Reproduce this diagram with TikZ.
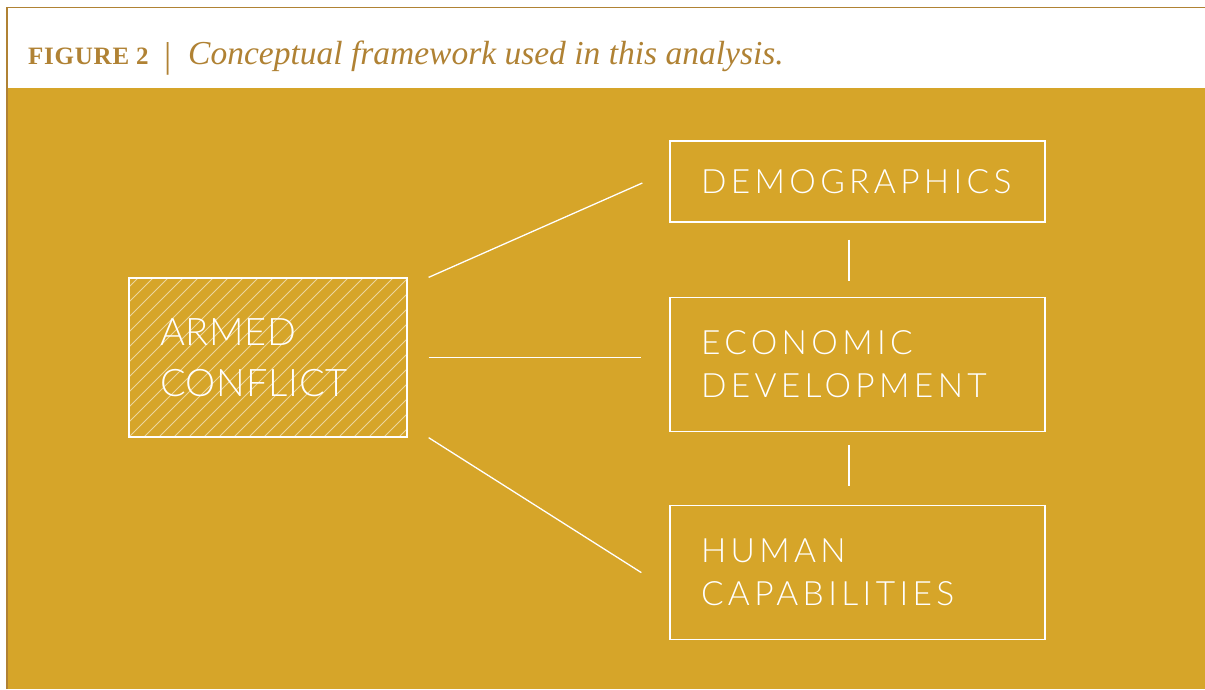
\documentclass[tikz,border=0pt]{standalone}
\usepackage{fontspec}
\setmainfont{Liberation Serif}
\newfontfamily\boxfont[LetterSpace=13]{Lato Light}
\newfontfamily\armfont[LetterSpace=2]{Lato Light}
\newfontfamily\figfont[LetterSpace=3]{Liberation Serif}
\usetikzlibrary{positioning}

\definecolor{gold}{RGB}{214,165,41}
\definecolor{headgold}{RGB}{176,130,52}

\tikzset{
	box/.style={draw=white, line width=1.3pt, text=white, align=left,
		text width=313pt, inner xsep=31pt, inner ysep=0pt, minimum height=134pt,
		font=\boxfont\fontsize{33.5}{43}\selectfont},
	hatched/.style={path picture={
		\foreach \i in {-11,...,19}
			\draw[white, opacity=0.55, line width=0.8pt]
				([xshift=\i*15pt]path picture bounding box.south west) -- ++(165pt,165pt);
	}},
	link/.style={draw=white, line width=1.3pt},
}

\begin{document}
\begin{tikzpicture}[x=1pt, y=-1pt]
	\useasboundingbox (0,0) rectangle (1205,689);
	\fill[white] (0,0) rectangle (1205,689);
	\fill[gold] (8,88) rectangle (1205,689);
	\draw[headgold, line width=1.5pt] (7,689) -- (7,7.5) -- (1205,7.5);

	% caption
	\node[anchor=base west, inner sep=0pt, text=headgold, font=\figfont\bfseries\fontsize{25}{25}\selectfont](FIG) at (28,64){FIGURE 2};
	\node[anchor=base west, inner sep=0pt, text=headgold, font=\fontsize{36}{36}\selectfont](BAR) at (164,67){|};
	\node[anchor=base west, inner sep=0pt, text=headgold, font=\itshape\fontsize{33.5}{33.5}\selectfont](CAP) at (188,64){Conceptual framework used in this analysis.};

	% boxes
	\node[box, minimum height=81pt](DEMO) at (857.5,181.5){DEMOGRAPHICS};
	\node[box, below=74pt of DEMO](ECON){ECONOMIC\\DEVELOPMENT};
	\node[box, below=73pt of ECON](HUM){HUMAN\\CAPABILITIES};

	\node[box, hatched, text width=216pt, minimum height=159pt,
		font=\armfont\fontsize{38}{51}\selectfont](ARM) at (268,357.5){ARMED\\CONFLICT};

	% links
	\coordinate[right=21pt of ARM.north east](A1);
	\coordinate[right=21pt of ARM.east](A2);
	\coordinate[right=21pt of ARM.south east](A3);
	\coordinate[left=27pt of DEMO.west, yshift=-1.5pt](B1);
	\coordinate[left=28pt of ECON.west, yshift=5pt](B2);
	\coordinate[left=28pt of HUM.west](B3);

	\draw[link] (A1) -- (B1);
	\draw[link] (A2) -- (A2 -| B2);
	\draw[link] (A3) -- (B3);

	\coordinate[below=17pt of DEMO.south, xshift=-8.5pt](V1);
	\coordinate[above=16pt of ECON.north, xshift=-8.5pt](V2);
	\coordinate[below=13pt of ECON.south, xshift=-8.5pt](V3);
	\coordinate[above=19pt of HUM.north, xshift=-8.5pt](V4);

	\draw[link] (V1) -- (V2);
	\draw[link] (V3) -- (V4);
\end{tikzpicture}
\end{document}
